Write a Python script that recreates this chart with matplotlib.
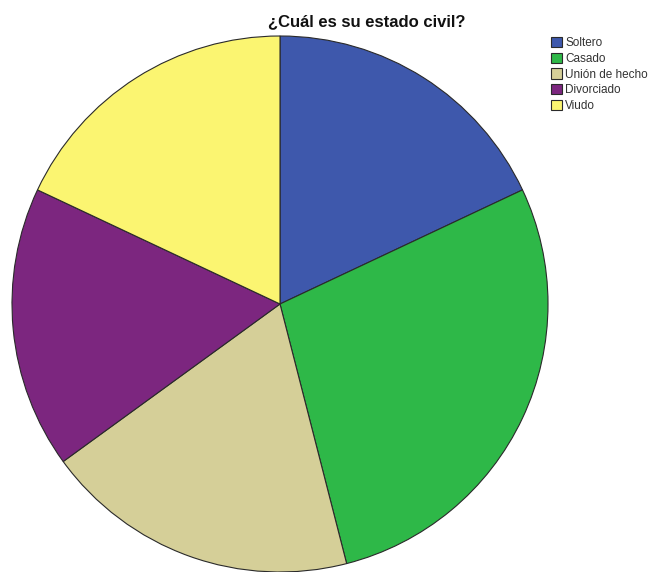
import matplotlib.pyplot as plt

# frecuencias de estado civil
categorias = ['Soltero', 'Casado', 'Unión de hecho', 'Divorciado', 'Viudo']
frecuencias = [18, 28, 19, 17, 18]
colores = ['#3E58AC', '#2EB848', '#D5CF98', '#7C267F', '#FBF571']

plt.rcParams['font.family'] = ['Liberation Sans', 'DejaVu Sans']

fig = plt.figure(figsize=(6.57, 5.72), dpi=100)
ax = fig.add_axes([12 / 657, 0.0, 536 / 657, 536 / 572])

wedges, _ = ax.pie(frecuencias, colors=colores, startangle=90, counterclock=False,
                   radius=1.0, wedgeprops=dict(edgecolor='#2a2a2a', linewidth=0.8))
ax.set_xlim(-1.0, 1.0)
ax.set_ylim(-1.0, 1.0)
ax.set_aspect('equal')
ax.axis('off')

fig.text(367 / 657, 1 - 22 / 572, '¿Cuál es su estado civil?', ha='center', va='center',
         fontsize=12, fontweight='bold', color='#111111')

fig.legend(wedges, categorias, loc='upper left', bbox_to_anchor=(551 / 657, 1 - 37 / 572),
           frameon=False, fontsize=8.5, handlelength=0.95, handleheight=0.95,
           handletextpad=0.25, labelspacing=0.3, borderaxespad=0, borderpad=0,
           labelcolor='#333333')

fig.savefig('out.png', dpi=100, facecolor='white')
